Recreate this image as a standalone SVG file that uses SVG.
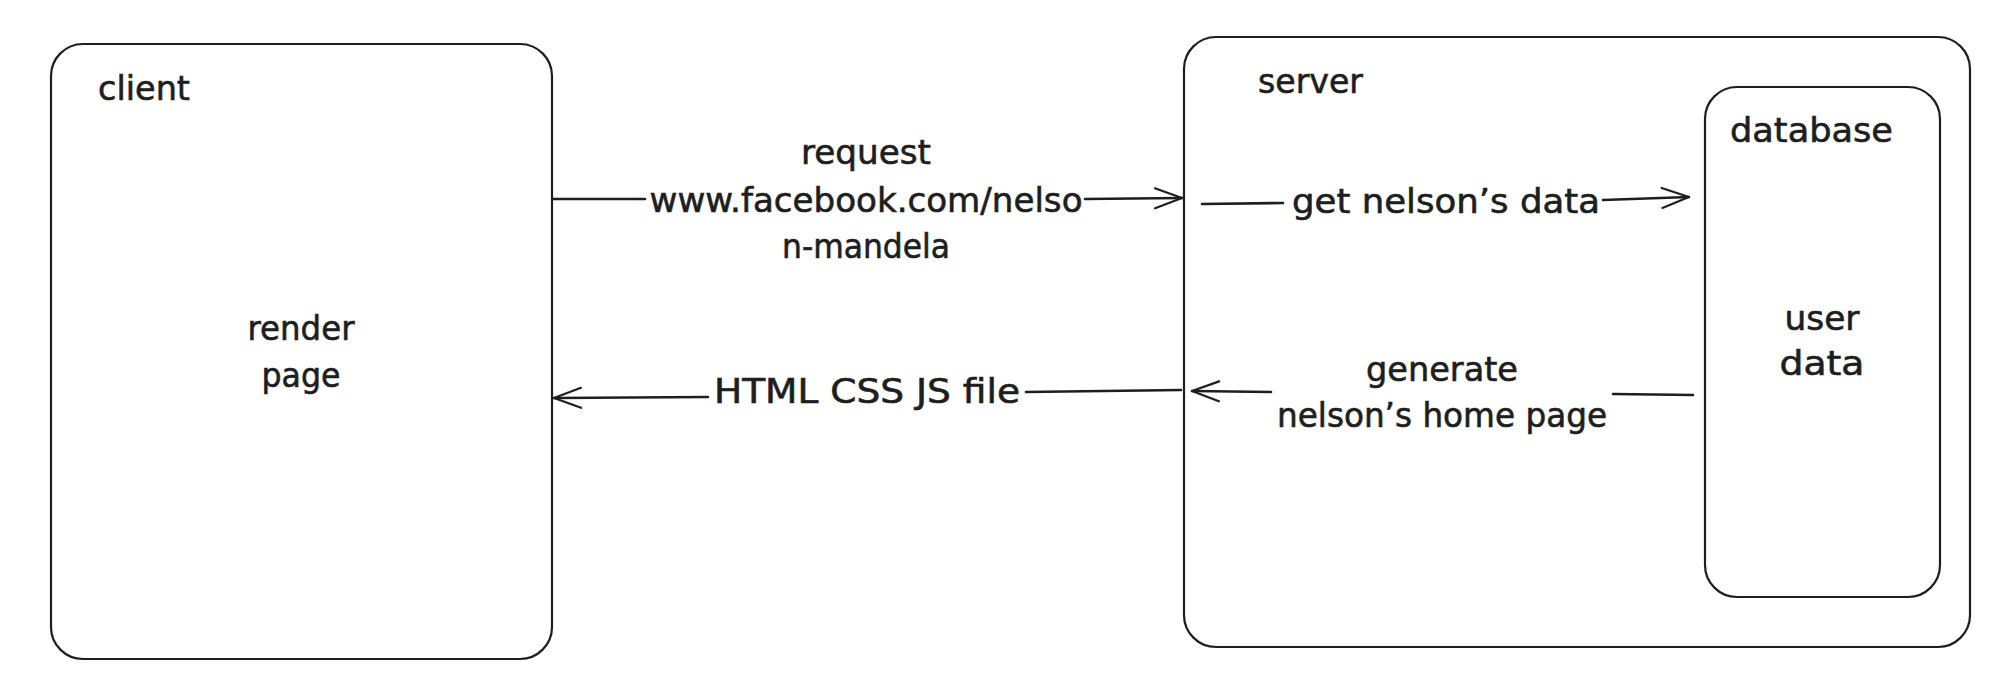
<svg xmlns="http://www.w3.org/2000/svg" width="2016" height="696" viewBox="0 0 2016 696">
  <defs>
    <marker id="arrow" markerUnits="userSpaceOnUse" markerWidth="40" markerHeight="30" viewBox="-30 -15 34 30" refX="0" refY="0" orient="auto" overflow="visible">
      <path d="M-27,-10 L0,0 L-27,10" fill="none" stroke="#1e1e1e" stroke-width="2.2" stroke-linecap="round" stroke-linejoin="round"/>
    </marker>
    <style>
      .box { fill: #ffffff; stroke: #1e1e1e; stroke-width: 2.2; }
      .edge { fill: none; stroke: #1e1e1e; stroke-width: 2.6; stroke-linecap: round; }
      .t { font-family: "DejaVu Sans", "Liberation Sans", sans-serif; font-size: 33px; fill: #1e1e1e; stroke: #1e1e1e; stroke-width: 0.6; }
      .c { text-anchor: middle; }
    </style>
  </defs>
  <rect width="2016" height="696" fill="#ffffff"/>

  <g id="client">
    <rect class="box" x="51" y="44" width="501" height="615" rx="32" ry="32"/>
    <text class="t" x="98" y="100" textLength="92" lengthAdjust="spacingAndGlyphs">client</text>
    <text class="t c" x="301" y="340" textLength="107" lengthAdjust="spacingAndGlyphs">render</text>
    <text class="t c" x="301" y="387" textLength="79" lengthAdjust="spacingAndGlyphs">page</text>
  </g>

  <g id="server">
    <rect class="box" x="1184" y="37" width="786" height="610" rx="32" ry="32"/>
    <text class="t" x="1258" y="93" textLength="105" lengthAdjust="spacingAndGlyphs">server</text>
  </g>

  <g id="database">
    <rect class="box" x="1705" y="87" width="235" height="510" rx="32" ry="32"/>
    <text class="t" x="1730" y="142" textLength="163" lengthAdjust="spacingAndGlyphs">database</text>
    <text class="t c" x="1822" y="330" textLength="75" lengthAdjust="spacingAndGlyphs">user</text>
    <text class="t c" x="1822" y="375" textLength="85" lengthAdjust="spacingAndGlyphs">data</text>
  </g>

  <g id="connectors">
    <g id="edge-request">
      <path class="edge" d="M553,199 L645,199"/>
      <path class="edge" d="M1085,199 L1182,198" marker-end="url(#arrow)"/>
      <text class="t c" x="866" y="164" textLength="130" lengthAdjust="spacingAndGlyphs">request</text>
      <text class="t c" x="866" y="212" textLength="433" lengthAdjust="spacingAndGlyphs">www.facebook.com/nelso</text>
      <text class="t c" x="866" y="258" textLength="168" lengthAdjust="spacingAndGlyphs">n-mandela</text>
    </g>
    <g id="edge-response">
      <path class="edge" d="M1181,390 L1026,392"/>
      <path class="edge" d="M708,397 L554,398" marker-end="url(#arrow)"/>
      <text class="t c" x="867" y="403" textLength="306" lengthAdjust="spacingAndGlyphs">HTML CSS JS file</text>
    </g>
    <g id="edge-get-data">
      <path class="edge" d="M1202,204 L1283,203"/>
      <path class="edge" d="M1603,200 L1689,197" marker-end="url(#arrow)"/>
      <text class="t c" x="1446" y="213" textLength="308" lengthAdjust="spacingAndGlyphs">get nelson’s data</text>
    </g>
    <g id="edge-generate">
      <path class="edge" d="M1693,395 L1613,394"/>
      <path class="edge" d="M1271,392 L1192,391" marker-end="url(#arrow)"/>
      <text class="t c" x="1442" y="381" textLength="152" lengthAdjust="spacingAndGlyphs">generate</text>
      <text class="t c" x="1442" y="427" textLength="330" lengthAdjust="spacingAndGlyphs">nelson’s home page</text>
    </g>
  </g>
</svg>
